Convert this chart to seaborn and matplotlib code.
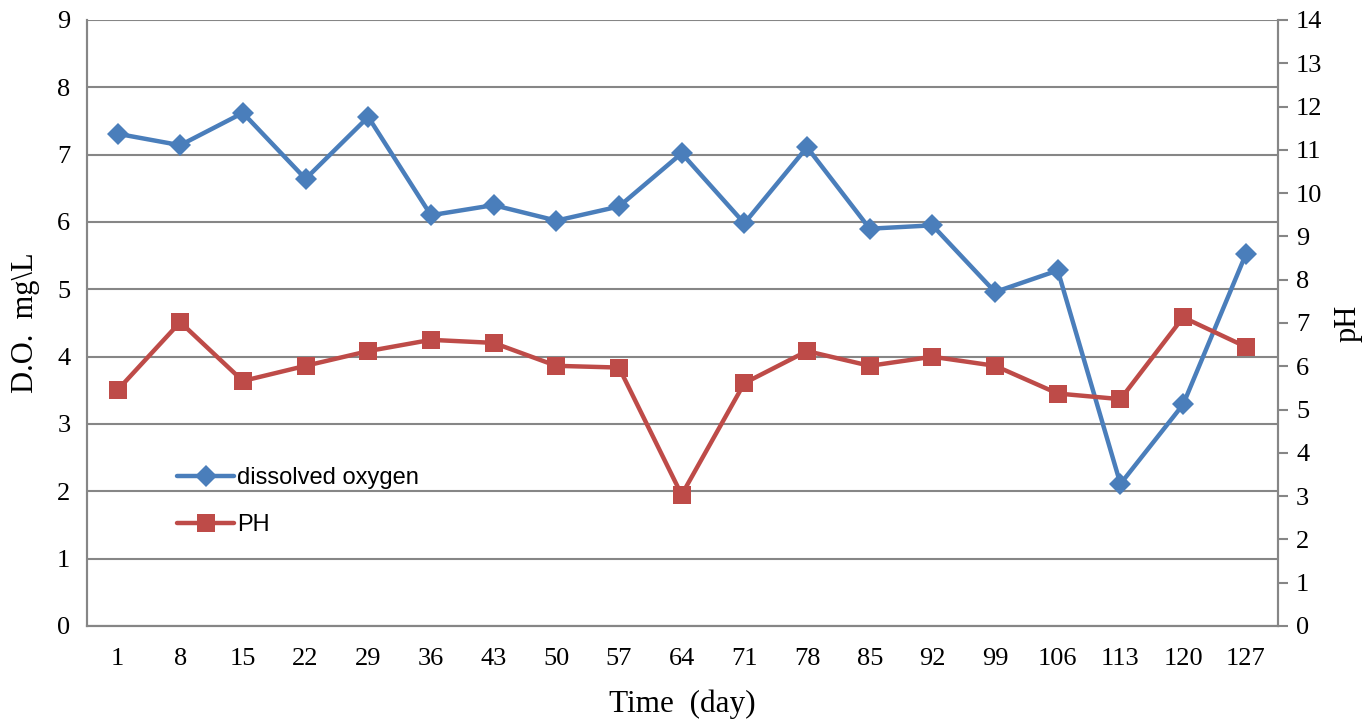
import matplotlib
matplotlib.use("Agg")
import matplotlib.pyplot as plt
import seaborn as sns
import pandas as pd
from matplotlib.lines import Line2D

days = [1, 8, 15, 22, 29, 36, 43, 50, 57, 64, 71, 78, 85, 92, 99, 106, 113, 120, 127]
dissolved_oxygen = [7.31, 7.14, 7.62, 6.64, 7.56, 6.10, 6.25, 6.02, 6.23, 7.02, 5.98, 7.11,
                    5.90, 5.95, 4.96, 5.28, 2.11, 3.29, 5.52]
ph = [5.45, 7.02, 5.66, 6.01, 6.35, 6.61, 6.54, 6.01, 5.97, 3.03, 5.61, 6.35,
      6.01, 6.22, 6.01, 5.37, 5.24, 7.13, 6.45]

df = pd.DataFrame({"day": days, "do": dissolved_oxygen, "ph": ph})

sns.set_style("white")
plt.rcParams["font.family"] = ["Liberation Serif", "DejaVu Serif"]
plt.rcParams["text.color"] = "black"
plt.rcParams["axes.labelcolor"] = "black"
plt.rcParams["xtick.color"] = "black"
plt.rcParams["ytick.color"] = "black"

blue = "#4A7EBB"
red = "#BE4B48"
gray = "#868686"

fig = plt.figure(figsize=(13.71, 7.21), dpi=100)
ax = fig.add_axes([0.0635, 0.1318, 0.8687, 0.8405])
ax2 = ax.twinx()

sns.lineplot(data=df, x="day", y="do", ax=ax, color=blue, linewidth=3.2,
             marker="D", markersize=11, markeredgewidth=0, zorder=3)
sns.lineplot(data=df, x="day", y="ph", ax=ax2, color=red, linewidth=3.2,
             marker="s", markersize=12.5, markeredgewidth=0, zorder=3)

ax.set_xlim(1 - 3.4, 127 + 3.6)
ax.set_ylim(0, 9)
ax2.set_ylim(0, 14)
ax.set_yticks(range(0, 10))
ax2.set_yticks(range(0, 15))
ax.set_xticks(days)
ax.set_xticklabels([str(d) for d in days])

ax.yaxis.grid(True, color=gray, linewidth=1.5)
ax.set_axisbelow(True)

for a in (ax, ax2):
    for s in a.spines.values():
        s.set_color(gray)
        s.set_linewidth(1.5)
ax.spines["top"].set_visible(False)
ax2.spines["top"].set_visible(False)

ax.tick_params(axis="both", labelsize=19, length=0, pad=16, labelcolor="black")
ax.tick_params(axis="y", pad=12)
ax2.tick_params(axis="y", labelsize=19, length=7, width=1.5, color=gray, pad=6,
                labelcolor="black", direction="out")

ax.set_xlabel("Time  (day)", fontsize=22.5, labelpad=14, color="black")
ax.set_ylabel("D.O.  mg\\L", fontsize=22, labelpad=12, color="black")
ax2.set_ylabel("pH", fontsize=22, labelpad=8, color="black")

handles = [
    Line2D([], [], color=blue, linewidth=3.2, marker="D", markersize=11, markeredgewidth=0),
    Line2D([], [], color=red, linewidth=3.2, marker="s", markersize=12.5, markeredgewidth=0),
]
leg = ax2.legend(handles, ["dissolved oxygen", "PH"], loc="upper left",
                 bbox_to_anchor=(0.058, 0.297), frameon=False,
                 prop={"family": "Liberation Sans", "size": 17},
                 handlelength=2.4, handletextpad=0.12, labelspacing=1.05,
                 labelcolor="black")

fig.savefig("out.png", dpi=100)
